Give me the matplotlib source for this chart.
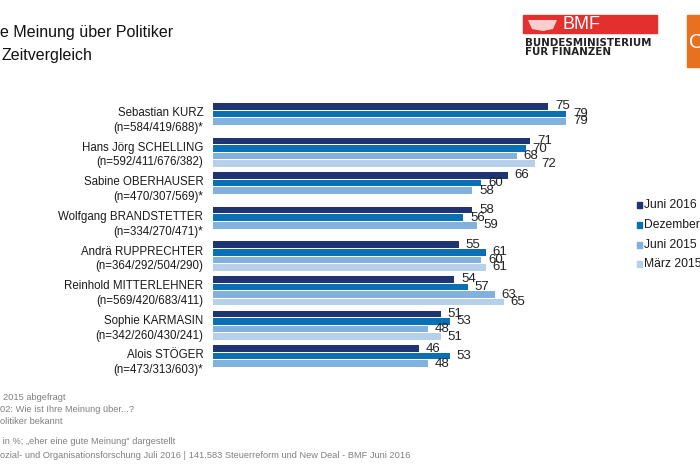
import numpy as np
import matplotlib
matplotlib.use("Agg")
import matplotlib.pyplot as plt
from matplotlib.patches import Rectangle, Polygon

plt.rcParams['font.family'] = ['Liberation Sans', 'DejaVu Sans']

politicians = ["Sebastian KURZ", "Hans Jörg SCHELLING", "Sabine OBERHAUSER",
               "Wolfgang BRANDSTETTER", "Andrä RUPPRECHTER", "Reinhold MITTERLEHNER",
               "Sophie KARMASIN", "Alois STÖGER"]
sample_sizes = ["(n=584/419/688)*", "(n=592/411/676/382)", "(n=470/307/569)*",
                "(n=334/270/471)*", "(n=364/292/504/290)", "(n=569/420/683/411)",
                "(n=342/260/430/241)", "(n=473/313/603)*"]
series_names = ["Juni 2016", "Dezember 2015", "Juni 2015", "März 2015"]
juni_2016 = [75, 71, 66, 58, 55, 54, 51, 46]
dezember_2015 = [79, 70, 60, 56, 61, 57, 53, 53]
juni_2015 = [79, 68, 58, 59, 60, 63, 48, 48]
maerz_2015 = [None, 72, None, None, 61, 65, 51, None]
series = [juni_2016, dezember_2015, juni_2015, maerz_2015]
colors = ["#1F3473", "#0B6FB3", "#82B1DE", "#B6D0EA"]

W, H = 700, 466
fig = plt.figure(figsize=(7, 4.66), dpi=100)
fig.patch.set_facecolor("white")

def fx(x):
    return x / W

def fy(y):
    return 1 - y / H

slot_px = 7.6
group_step = 34.6 / slot_px
top_px = 106.3 - 0.5 * slot_px
ymax = 7 * group_step + 3.5
bottom_px = 106.3 + (ymax) * slot_px
left_px, right_px = 213, 213 + 447

ax = fig.add_axes([fx(left_px), fy(bottom_px), (right_px - left_px) / W,
                   (bottom_px - top_px) / H])
ax.set_xlim(0, 100)
ax.set_ylim(ymax, -0.5)

groups = np.arange(len(politicians))
for s, (vals, col) in enumerate(zip(series, colors)):
    for g, v in zip(groups, vals):
        if v is None:
            continue
        pos = g * group_step + s
        ax.barh(pos, v, height=0.86, color=col, edgecolor="none")
        ax.text(v + 1.5, pos, str(v), va="center", ha="left", fontsize=9.5,
                color="#222222")

ax.set_yticks(groups * group_step + 1.5)
ax.set_yticklabels([f"{n}\n{s}" for n, s in zip(politicians, sample_sizes)],
                   fontsize=8.3, color="#1a1a1a", ha="right", linespacing=1.3)
ax.tick_params(axis="y", length=0, pad=7)
ax.set_xticks([])
for sp in ax.spines.values():
    sp.set_visible(False)

# legend
leg_y = [205, 225, 245, 264]
for name, col, y in zip(series_names, colors, leg_y):
    fig.patches.append(Rectangle((fx(637), fy(y + 3)), 5 / W, 6 / H,
                                 transform=fig.transFigure, color=col))
    fig.text(fx(644), fy(y), name, fontsize=8.7, color="#1a1a1a",
             va="center", ha="left")

# title (cropped slide)
fig.text(fx(0), fy(37), "e Meinung über Politiker", fontsize=11.5,
         color="#111111", va="baseline", ha="left")
fig.text(fx(2), fy(60), "Zeitvergleich", fontsize=11.5,
         color="#111111", va="baseline", ha="left")

# BMF logo
fig.patches.append(Rectangle((fx(523), fy(33)), 134 / W, 18 / H,
                             transform=fig.transFigure, color="#E3302F"))
# simplified emblem
fig.patches.append(Polygon([(fx(528), fy(20)), (fx(557), fy(20)), (fx(553), fy(29)),
                            (fx(543), fy(31)), (fx(532), fy(29))],
                           closed=True, transform=fig.transFigure,
                           facecolor="#F7CFCE", edgecolor="none"))
fig.text(fx(563), fy(24.5), "BMF", fontsize=13, color="white", va="center",
         ha="left")
fig.text(fx(525), fy(43), "BUNDESMINISTERIUM", fontsize=7.4, color="#222222",
         fontweight="bold", family="DejaVu Sans", va="center", ha="left")
fig.text(fx(525), fy(52), "FÜR FINANZEN", fontsize=7.4, color="#222222",
         fontweight="bold", family="DejaVu Sans", va="center", ha="left")

# orange logo
fig.patches.append(Rectangle((fx(687), fy(67)), 13 / W, 52 / H,
                             transform=fig.transFigure, color="#E8711F"))
fig.text(fx(689), fy(42), "C", fontsize=15, color="white", va="center",
         ha="left")

# footer
foot_col = "#808080"
fs = 6.7
fig.text(fx(3), fy(397), "2015 abgefragt", fontsize=fs, color=foot_col,
         va="center", ha="left")
fig.text(fx(0), fy(409), "02: Wie ist Ihre Meinung über...?", fontsize=fs,
         color=foot_col, va="center", ha="left")
fig.text(fx(0), fy(421), "olitiker bekannt", fontsize=fs, color=foot_col,
         va="center", ha="left")
fig.text(fx(0), fy(441), " in %; „eher eine gute Meinung\" dargestellt",
         fontsize=fs, color=foot_col, va="center", ha="left")
fig.text(fx(0), fy(456),
         "ozial- und Organisationsforschung Juli 2016 | 141.583 Steuerreform und New Deal - BMF Juni 2016",
         fontsize=fs, color=foot_col, va="center", ha="left")

fig.savefig("out.png", dpi=100)
